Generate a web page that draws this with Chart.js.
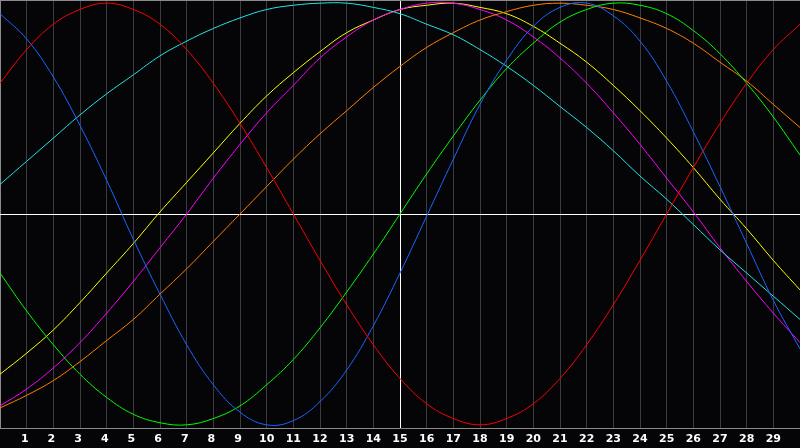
<!DOCTYPE html>
<html>
<head>
<meta charset="utf-8">
<script src="https://cdn.jsdelivr.net/npm/chart.js@4"></script>
<style>
  html, body { margin: 0; padding: 0; background: #050507; }
  #wrap { width: 800px; height: 448px; }
</style>
</head>
<body>
<div id="wrap"><canvas id="waves" width="800" height="448"></canvas></div>
<script>
// x positions 0..30, one value per integer step
const xs = [0,1,2,3,4,5,6,7,8,9,10,11,12,13,14,15,16,17,18,19,20,21,22,23,24,25,26,27,28,29,30];

const red = [0.62,0.78,0.90,0.97,1.00,0.97,0.90,0.78,0.62,0.43,0.22,0.00,-0.22,-0.43,-0.62,-0.78,-0.90,-0.97,-1.00,-0.97,-0.90,-0.78,-0.62,-0.43,-0.22,0.00,0.22,0.43,0.62,0.78,0.90];
const blue = [0.95,0.83,0.65,0.42,0.16,-0.12,-0.38,-0.62,-0.81,-0.94,-1.00,-0.98,-0.89,-0.74,-0.53,-0.28,-0.01,0.26,0.52,0.73,0.89,0.98,1.00,0.94,0.82,0.63,0.39,0.13,-0.14,-0.41,-0.64];
const cyan = [0.14,0.25,0.36,0.47,0.57,0.66,0.75,0.82,0.88,0.93,0.97,0.99,1.00,1.00,0.98,0.95,0.90,0.85,0.78,0.70,0.61,0.51,0.41,0.30,0.18,0.07,-0.05,-0.17,-0.28,-0.39,-0.50];
const yellow = [-0.76,-0.66,-0.55,-0.42,-0.28,-0.14,0.01,0.15,0.29,0.43,0.56,0.67,0.77,0.86,0.92,0.97,0.99,1.00,0.98,0.95,0.89,0.81,0.72,0.61,0.49,0.36,0.22,0.07,-0.07,-0.22,-0.36];
const magenta = [-0.91,-0.83,-0.73,-0.61,-0.47,-0.32,-0.16,0.00,0.17,0.33,0.48,0.61,0.74,0.84,0.92,0.97,1.00,1.00,0.97,0.92,0.84,0.74,0.62,0.48,0.33,0.17,0.01,-0.16,-0.32,-0.47,-0.61];
const orange = [-0.92,-0.86,-0.79,-0.70,-0.60,-0.50,-0.38,-0.26,-0.13,0.00,0.13,0.26,0.38,0.49,0.60,0.70,0.79,0.86,0.92,0.96,0.99,1.00,0.99,0.97,0.93,0.88,0.81,0.72,0.63,0.52,0.41];
const green = [-0.28,-0.46,-0.62,-0.76,-0.87,-0.95,-0.99,-1.00,-0.97,-0.91,-0.81,-0.69,-0.54,-0.37,-0.19,0.00,0.19,0.37,0.54,0.69,0.81,0.91,0.97,1.00,0.99,0.95,0.87,0.76,0.62,0.46,0.28];

const series = [
  { name: 'red', values: red, color: '#ff0000' },
  { name: 'blue', values: blue, color: '#1a66ff' },
  { name: 'cyan', values: cyan, color: '#22e6e6' },
  { name: 'green', values: green, color: '#00ff00' },
  { name: 'orange', values: orange, color: '#ff8000' },
  { name: 'magenta', values: magenta, color: '#ff00ff' },
  { name: 'yellow', values: yellow, color: '#ffff00' }
];

const frame = {
  id: 'frame',
  afterDraw(chart){
    const a = chart.chartArea, c = chart.ctx;
    c.save();
    c.strokeStyle = '#8a8a8a';
    c.lineWidth = 1;
    c.beginPath();
    c.moveTo(a.left, a.top + 0.5);
    c.lineTo(a.right, a.top + 0.5);
    c.stroke();
    c.restore();
  }
};

new Chart(document.getElementById('waves'), {
  type: 'line',
  data: {
    datasets: series.map(s => ({
      label: s.name,
      data: xs.map((x, i) => ({ x: x, y: s.values[i] })),
      borderColor: s.color,
      borderWidth: 1,
      pointRadius: 0,
      tension: 0.4,
      fill: false
    }))
  },
  options: {
    responsive: false,
    animation: false,
    layout: { padding: 0 },
    plugins: { legend: { display: false }, tooltip: { enabled: false } },
    scales: {
      x: {
        type: 'linear',
        min: 0,
        max: 30,
        border: { display: true, color: '#8a8a8a' },
        grid: {
          drawTicks: false,
          color: ctx => ctx.tick.value === 15 ? '#ffffff' : (ctx.tick.value === 0 ? '#8a8a8a' : (ctx.tick.value === 30 ? 'rgba(0,0,0,0)' : '#3c3c40'))
        },
        ticks: {
          stepSize: 1,
          autoSkip: false,
          maxRotation: 0,
          padding: 5,
          color: '#ffffff',
          font: { family: 'DejaVu Sans', size: 11, weight: 'bold' },
          // single digits sit a little left of their grid line in the original
          callback: v => (v >= 1 && v <= 29) ? (v < 10 ? v + ' ' : String(v)) : ''
        },
        afterFit: scale => { scale.height = 20; scale.paddingLeft = 0; scale.paddingRight = 0; }
      },
      y: {
        min: -1.015,
        max: 1.015,
        border: { display: false },
        ticks: { display: false },
        grid: { drawTicks: false, color: '#ffffff' },
        afterBuildTicks: scale => { scale.ticks = [{ value: 0 }]; },
        afterFit: scale => { scale.width = 0; }
      }
    }
  },
  plugins: [frame]
});
</script>
</body>
</html>
